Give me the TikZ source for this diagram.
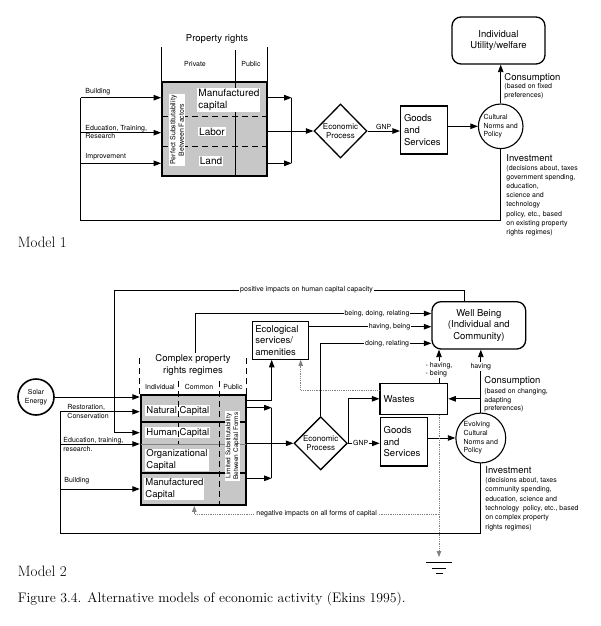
\documentclass[tikz,border=0pt]{standalone}
\usepackage{fontspec}
\setsansfont{TeX Gyre Heros}
\usetikzlibrary{arrows.meta,positioning,shapes.geometric}

\begin{document}
\begin{tikzpicture}[x=1pt,y=-1pt,>={Triangle[length=7.5pt,width=5.5pt]},line width=0.9pt]
\tikzstyle{lbl}=[font=\sffamily\fontsize{7}{8.6}\selectfont, inner sep=1pt]
\tikzstyle{txt}=[font=\sffamily\fontsize{9.5}{11.6}\selectfont, inner sep=1pt]
\tikzstyle{modeltxt}=[font=\fontsize{15}{18}\selectfont, inner sep=0pt]
\tikzstyle{wbg}=[fill=white]
\tikzstyle{capbox}=[draw, line width=1.8pt, fill=black!22, inner sep=0pt]
\tikzstyle{rect}=[draw, line width=1.1pt, txt, align=left, inner xsep=3.5pt]
\tikzstyle{proc}=[draw, diamond, line width=1.3pt, inner sep=0pt, font=\sffamily\fontsize{8}{9.5}\selectfont, align=center]
\tikzstyle{norm}=[draw, circle, line width=1.1pt, inner sep=0pt, lbl, align=left]
\tikzstyle{goal}=[draw, rounded corners=9pt, line width=1.3pt, txt, align=center]
\tikzstyle{dotline}=[gray, densely dotted, line width=0.8pt]
\tikzstyle{grayhead}=[-{Triangle[length=6pt,width=4.5pt]}]
\tikzstyle{divider}=[dash pattern=on 6pt off 4pt]

\useasboundingbox (0,0) rectangle (600,626);

% Model 1
\node[txt]		(PR1) at (217,39) {Property rights};
\node[lbl]		(PV1) at (195,64) {Private};
\node[lbl]		(PB1) at (251,64) {Public};
\node[capbox, minimum width=105, minimum height=94] (K1) at (214.5,129) {};
\draw (K1.north west) -- ++(0,-34);
\draw (K1.north east) -- ++(0,-34);
\draw (235.7,50) -- (235.7,176);
\draw[divider, line width=1.4pt] (162,116.7) -- (267,116.7);
\draw[divider, line width=1.4pt] (162,146.7) -- (267,146.7);
\node[txt, wbg, anchor=west, align=left, font=\sffamily\fontsize{10}{12}\selectfont] (MC1) at (197,100) {Manufactured\\capital};
\node[txt, wbg, font=\sffamily\fontsize{10}{12}\selectfont] (LA1) at (212,131.5) {Labor};
\node[txt, wbg, font=\sffamily\fontsize{10}{12}\selectfont] (LD1) at (211,161) {Land};
\node[lbl, wbg, rotate=90, align=center, inner sep=1.5pt] (PS1) at (177,130) {Perfect Substitutability\\Between Factors};

\coordinate (B1) at (80.7,97.7);
\coordinate (B2) at (80.7,132.7);
\coordinate (B3) at (80.7,163.3);
\coordinate (F1) at (80.7,220);
\draw[->] (B1) -- (B1 -| K1.west);
\draw[->] (B2) -- (B2 -| K1.west);
\draw[->] (B3) -- (B3 -| K1.west);
\node[lbl, anchor=west] (LB1) at (84,92) {Building};
\node[lbl, anchor=west, align=left] (LE1) at (84,132) {Education, Training,\\Research};
\node[lbl, anchor=west] (LI1) at (84,157) {Improvement};

\coordinate (O1) at (291.7,97.7);
\coordinate (O2) at (291.7,163.3);
\draw[->] (O1 -| K1.east) -- (O1);
\draw[->] (O2 -| K1.east) -- (O2);
\draw (O1) -- (O2);

\node[proc, minimum width=53, minimum height=54] (EP1) at (340.5,131) {Economic\\Process};
\node[rect, text width=40, minimum height=48] (GS1) at (424,130) {Goods\\and\\Services};
\node[norm, minimum size=44] (CN1) at (500.7,126.3) {Cultural\\Norms and\\Policy};
\node[goal, minimum width=93, minimum height=47] (IU) at (498.5,40.5) {Individual\\Utility/welfare};
\draw[->] (K1.east |- EP1) -- (EP1);
\draw[->] (EP1.east) -- node[lbl, above] (GN1) {GNP} (EP1.east -| GS1.west);
\draw[->] (GS1.east |- CN1) -- (CN1);
\draw[->] (CN1) -- (CN1 |- IU.south);
\draw (CN1) -- (CN1 |- F1) -- (F1) -- (B1);

\node[txt, anchor=base west] (CS1) at (503,80) {Consumption};
\node[lbl, anchor=north west, align=left] (CT1) at (503,82) {(based on fixed\\preferences)};
\node[txt, anchor=base west] (IV1) at (505,161) {Investment};
\node[lbl, anchor=north west, align=left, font=\sffamily\fontsize{7}{9.2}\selectfont] (IT1) at (505,163.5) {(decisions about, taxes\\government spending,\\education,\\science and\\technology\\policy, etc., based\\on existing property\\rights regimes)};
\node[modeltxt, anchor=base west] (M1) at (17.3,247.5) {Model 1};

% Model 2
\node[txt, align=center] (CP) at (193,365) {Complex property\\rights regimes};
\node[lbl] (IN) at (160,386.7) {Individual};
\node[lbl] (CM) at (199,386.7) {Common};
\node[lbl] (PU) at (233,386.7) {Public};
\node[capbox, minimum width=105.3, minimum height=110] (K2) at (193.35,450) {};
\draw[divider] (K2.north west) -- ++(0,-38);
\draw[divider] (K2.north east) -- ++(0,-38);
\draw[line width=1.8pt] (140.7,421.7) -- (246,421.7);
\draw[line width=1.8pt] (140.7,473.3) -- (246,473.3);
\draw[gray, line width=0.6pt] (140.7,444) -- (246,444);
\node[txt, wbg, anchor=west] (NC) at (145,410.5) {Natural Capital};
\node[txt, wbg, anchor=west] (HC) at (145,432.7) {Human Capital};
\node[txt, wbg, anchor=west, align=left] (OC) at (145,460) {Organizational\\Capital};
\node[txt, wbg, anchor=west, align=left] (MC2) at (144,489) {Manufactured\\Capital};
\node[lbl, wbg, rotate=90, align=center, font=\sffamily\fontsize{6.5}{7.6}\selectfont] (LS) at (232.5,446) {Limited Substitutability\\Between Capital Forms};
\draw[divider] (178.3,381) -- (178.3,444);
\draw[divider] (219,381) -- (219,505);

\node[norm, line width=1.6pt, minimum size=36, align=center] (SE) at (36,397) {Solar\\Energy};
\draw[->] (SE) -- (SE -| K2.west);

\coordinate (R1) at (60,411.7);
\coordinate (R2) at (60,444);
\coordinate (R3) at (60,489);
\coordinate (F2) at (60,533);
\draw[->] (R1) -- (R1 -| K2.west);
\draw[->] (R2) -- (R2 -| K2.west);
\draw[->] (R3) -- (R3 -| K2.west);
\node[lbl, anchor=west, align=left] (LR2) at (66,411.5) {Restoration,\\Conservation};
\node[lbl, anchor=west, align=left] (LE2) at (62,444.7) {Education, training,\\research.};
\node[lbl, anchor=west] (LB2) at (63,481) {Building};

\node[goal, minimum width=93.7, minimum height=47.3] (WB) at (478.85,325.35) {Well Being\\(Individual and\\Community)};
\node[rect, text width=50, inner xsep=3pt, minimum height=37.6] (EC) at (280.3,340.5) {Ecological\\services/\\amenities};
\node[proc, minimum width=53.3, minimum height=53.3] (EP2) at (320.7,443.3) {Economic\\Process};
\node[rect, text width=40, minimum height=48.3] (GS2) at (403.65,441.85) {Goods\\and\\Services};
\node[rect, text width=60.7, minimum height=31] (WS) at (413.85,398.8) {Wastes};
\node[norm, minimum size=45] (CN2) at (480.8,438) {Evolving\\Cultural\\Norms and\\Policy};

\coordinate (P1) at (464,290);
\coordinate (P2) at (114,290);
\draw[->] (WB.north -| P1) -- (P1) -- node[lbl, wbg, pos=.45] (PI) {positive impacts on human capital capacity} (P2) -- (P2 |- HC) -- (HC -| K2.west);
\coordinate (D1) at (195,313.5);
\draw[->] (CP.north -| D1) -- (D1) -- node[lbl, wbg, pos=.77] (BD) {being, doing, relating} (D1 -| WB.west);
\coordinate (H1) at (308.3,326.7);
\draw[->] (H1) -- node[lbl, wbg, pos=.66] (HB) {having, being} (H1 -| WB.west);
\coordinate (D3) at (320.7,343.3);
\draw[->] (EP2) -- (D3) -- node[lbl, wbg, pos=.6] (DR) {doing, relating} (D3 -| WB.west);

\coordinate (E2) at (271.7,400);
\draw[->] (E2 -| K2.east) -- (E2) -- (E2 |- EC.south);
\coordinate (Q1) at (271.7,407.7);
\coordinate (Q2) at (271.7,478.3);
\draw[->] (Q1 -| K2.east) -- (Q1);
\draw[->] (Q2 -| K2.east) -- (Q2);
\draw (Q1) -- (Q2);
\draw[->] (K2.east |- EP2) -- (EP2);

\draw[->] (EP2.east) -- node[lbl, wbg, pos=.4] (GN2) {GNP} (EP2.east -| GS2.west);
\draw[->] (EP2.east) -- (EP2.east |- WS) -- (WS);
\draw[->] (GS2.east |- CN2) -- (CN2);
\draw[->] (CN2) -- node[lbl, wbg, pos=.73] (HV) {having} (CN2 |- WB.south);
\draw[->] (CN2.north |- WS) -- (WS);
\draw (CN2) -- (CN2 |- F2) -- (F2) -- (R1);

\coordinate (G1) at (439,557);
\draw[->] (WS.north -| G1) -- node[lbl, wbg, align=left, pos=.4] (HB2) {- having,\\- being} (WB.south -| G1);
\draw[dotline, grayhead] (WS.south -| G1) -- (G1);
\draw[line width=1pt] (426,562) -- (452,562);
\draw[line width=1pt] (432,568) -- (446,568);
\draw[line width=1pt] (435.5,573.3) -- (443,573.3);
\coordinate (N1) at (439,514);
\coordinate (N2) at (194.3,514);
\draw[dotline, grayhead] (N1) -- node[lbl, wbg, text=black] (NI) {negative impacts on all forms of capital} (N2) -- (N2 |- K2.south);
\coordinate (D4) at (300.7,390);
\draw[dotline, grayhead] (D4 -| WS.west) -- (D4) -- (D4 |- EC.south);

\node[txt, anchor=base west] (CS2) at (483,383.5) {Consumption};
\node[lbl, anchor=north west, align=left] (CT2) at (483,387) {(based on changing,\\adapting\\preferences)};
\node[txt, anchor=base west] (IV2) at (484,473) {Investment};
\node[lbl, anchor=north west, align=left, font=\sffamily\fontsize{7}{9.3}\selectfont] (IT2) at (484,476) {(decisions about, taxes\\community spending,\\education, science and\\technology\ \ policy, etc., based\\on complex property\\rights regimes)};

\node[modeltxt, anchor=base west] (M2) at (17.3,576) {Model 2};
\node[modeltxt, anchor=base west, font=\fontsize{13.8}{16}\selectfont] (FG) at (17.3,602) {Figure 3.4. Alternative models of economic activity (Ekins 1995).};
\end{tikzpicture}
\end{document}
